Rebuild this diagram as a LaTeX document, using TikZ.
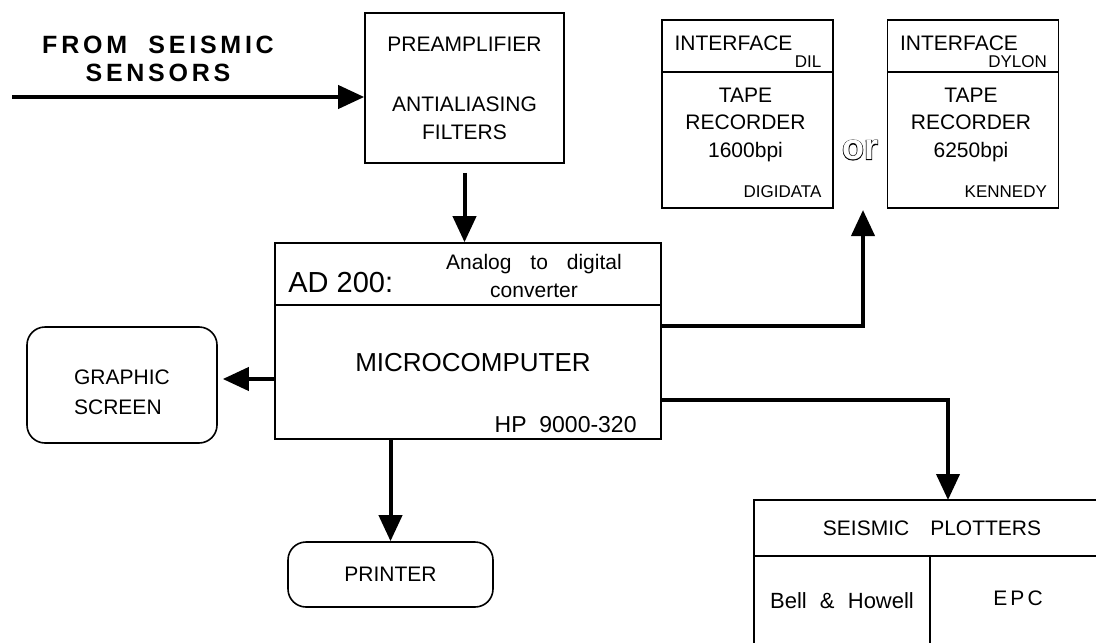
\documentclass[tikz,border=0pt]{standalone}
\usepackage{fontspec}
\setmainfont{Liberation Sans}
\newfontfamily\spacedsans[LetterSpace=15]{Liberation Sans}
\newfontface\orheavy[FakeBold=4]{Liberation Sans Bold}
\newfontface\orplain{Liberation Sans Bold}
\usetikzlibrary{arrows.meta,calc,positioning}
\tikzset{
  unitbox/.style={draw,line width=0.8pt,inner sep=0pt,align=center,
    font=\fontsize{10.5}{14}\selectfont},
  devicebox/.style={unitbox,rounded corners=9pt},
  flow/.style={-{Triangle[length=13pt,width=11.5pt]},line width=2pt},
  boxtext/.style={inner sep=0pt,align=center,font=\fontsize{10.5}{14}\selectfont},
  smalltext/.style={inner sep=0pt,font=\fontsize{8.5}{10}\selectfont}
}

\begin{document}
\begin{tikzpicture}[x=0.5pt,y=-0.5pt]
  \useasboundingbox (0,0) rectangle (1096,642);
  \clip (0,0) rectangle (1096,642);
  % input stage
  \node[unitbox,minimum width=99.5pt,minimum height=75pt] (pre) at (464.5,88)
    {PREAMPLIFIER\\[16pt]ANTIALIASING\\FILTERS};
  \node[boxtext,font={\spacedsans\bfseries\fontsize{12.5}{14}\selectfont}] (sensors)
    at (158,59) {FROM\ \ SEISMIC\\SENSORS};
  \coordinate (sensorline) at (12,97);
  \draw[flow] (sensorline) -- (sensorline -| pre.west);

  % converter and computer
  \node[unitbox,minimum width=193pt,minimum height=31pt] (ad) at (468,274) {};
  \node[unitbox,minimum width=193pt,minimum height=67pt] (micro) at (468,372) {};
  \node[boxtext,anchor=west,font=\fontsize{14.5}{16}\selectfont] (adname) at (288,283) {AD 200:};
  \node[boxtext] (adtype) at (534,276) {Analog\hspace{0.9em}to\hspace{0.9em}digital\\converter};
  \node[boxtext,font=\fontsize{13}{15}\selectfont] (microname) at (473,363) {MICROCOMPUTER};
  \node[boxtext,anchor=east,font=\fontsize{11.5}{13}\selectfont] (microtype) at (637,425) {HP\ \ 9000-320};
  \draw[flow,shorten <=4.5pt] (pre.south) -- (pre.south |- ad.north);

  % peripherals
  \node[devicebox,minimum width=95pt,minimum height=58pt] (screen) at (122,385) {};
  \node[boxtext,align=left,font=\fontsize{10.5}{15}\selectfont] (screentext) at (122,392) {GRAPHIC\\SCREEN};
  \node[devicebox,minimum width=102.5pt,minimum height=32.5pt] (printer) at (390.5,574.5) {PRINTER};
  \draw[flow,shorten >=2.5pt] ($(micro.west |- screen.east)+(0,-6)$) -- ($(screen.east)+(0,-6)$);
  \draw[flow] (printer.north |- micro.south) -- (printer.north);

  % tape recorders
  \foreach \tape/\xc/\iface/\bpi/\maker in {dil/747.5/DIL/1600/DIGIDATA,dylon/973/DYLON/6250/KENNEDY}{
    \node[unitbox,minimum width=85.5pt,minimum height=26pt] (\tape-head) at (\xc,46) {};
    \node[unitbox,minimum width=85.5pt,minimum height=68pt] (\tape-body) at (\xc,140) {};
    \node[boxtext,anchor=west] (\tape-iface) at ($(\tape-head.west)+(13,-3)$) {INTERFACE};
    \node[smalltext,anchor=east] (\tape-name) at ($(\tape-head.east)+(-12,16)$) {\iface};
    \node[boxtext,font=\fontsize{10.5}{13.75}\selectfont] (\tape-text)
      at ($(\tape-body.center)+(-2,-15.5)$) {TAPE\\RECORDER\\\bpi bpi};
    \node[smalltext,anchor=east] (\tape-maker) at ($(\tape-body.east)+(-12,52)$) {\maker};
  }
  \node (ortext) at (860,150) {\fontsize{18}{18}\selectfont\rlap{\orheavy or}{\color{white}\orplain or}};
  \coordinate (tapein) at (863,210);
  \draw[flow] ($(micro.north east)+(0,22)$) -| (tapein);

  % plotters
  \node[unitbox,minimum width=178pt,minimum height=28pt] (plothead) at (932,528) {SEISMIC\quad PLOTTERS};
  \node[unitbox,minimum width=88pt,minimum height=52pt] (bell) at (842,608) {};
  \node[unitbox,minimum width=90pt,minimum height=52pt] (epc) at (1020,608) {};
  \node[boxtext,font=\fontsize{11}{13}\selectfont] (belltext) at (842,601) {Bell\hspace{0.6em}\&\hspace{0.6em}Howell};
  \node[boxtext,font={\spacedsans\fontsize{10.5}{13}\selectfont}] (epctext) at (1018,598) {EPC};
  \coordinate (plotin) at (948,500);
  \draw[flow] ($(micro.south east)+(0,-40)$) -| (plotin);
\end{tikzpicture}
\end{document}
